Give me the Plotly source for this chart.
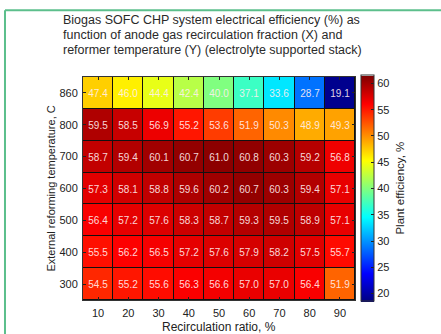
import plotly.graph_objects as go

recirc = [10, 20, 30, 40, 50, 60, 70, 80, 90]
temps = ["300", "400", "500", "600", "700", "800", "860"]
eff_300 = [54.5, 55.2, 55.6, 56.3, 56.6, 57.0, 57.0, 56.4, 51.9]
eff_400 = [55.5, 56.2, 56.5, 57.2, 57.6, 57.9, 58.2, 57.5, 55.7]
eff_500 = [56.4, 57.2, 57.6, 58.3, 58.7, 59.3, 59.5, 58.9, 57.1]
eff_600 = [57.3, 58.1, 58.8, 59.6, 60.2, 60.7, 60.3, 59.4, 57.1]
eff_700 = [58.7, 59.4, 60.1, 60.7, 61.0, 60.8, 60.3, 59.2, 56.8]
eff_800 = [59.5, 58.5, 56.9, 55.2, 53.6, 51.9, 50.3, 48.9, 49.3]
eff_860 = [47.4, 46.0, 44.4, 42.4, 40.0, 37.1, 33.6, 28.7, 19.1]
z = [eff_300, eff_400, eff_500, eff_600, eff_700, eff_800, eff_860]
cbar_ticks = [20, 25, 30, 35, 40, 45, 50, 55, 60]
title_lines = [
    "Biogas SOFC CHP system electrical efficiency (%) as",
    "function of anode gas recirculation fraction (X) and",
    "reformer temperature (Y) (electrolyte supported stack)",
]

jet = [[0.0, "rgb(0,0,128)"], [0.125, "rgb(0,0,255)"], [0.375, "rgb(0,255,255)"],
       [0.625, "rgb(255,255,0)"], [0.875, "rgb(255,0,0)"], [1.0, "rgb(128,0,0)"]]

FONT = "Liberation Sans"

fig = go.Figure(go.Heatmap(
    x=[str(v) for v in recirc], y=temps, z=z,
    colorscale=jet, zmin=18.5, zmax=61.5,
    xgap=1, ygap=1,
    text=[[f"{v:.1f}" for v in row] for row in z],
    texttemplate="%{text}",
    textfont=dict(family=FONT, size=10, color="rgba(255,240,240,0.9)"),
    colorbar=dict(
        x=1.022, xanchor="left", xpad=0, y=0.5, yanchor="middle", ypad=0,
        len=1.013, lenmode="fraction",
        thickness=13, outlinewidth=1, outlinecolor="#333",
        tickvals=cbar_ticks, ticks="inside", ticklen=3, tickcolor="#222",
        tickfont=dict(family=FONT, size=11, color="#222"),
    ),
    showscale=True,
))

title_ann = [
    dict(text=t, xref="paper", yref="paper", x=(62 - 83) / 272, y=(300 - py) / 223,
         xanchor="left", yanchor="middle", showarrow=False, borderpad=0,
         font=dict(family=FONT, size=12.5, color="#2a2a2a"))
    for t, py in zip(title_lines, [19.5, 34.5, 49.5])
]

fig.update_layout(
    width=441, height=334,
    margin=dict(l=83, r=86, t=77, b=34, autoexpand=False),
    paper_bgcolor="white", plot_bgcolor="#111",
    xaxis=dict(
        type="category", showline=True, linecolor="#333", linewidth=1, mirror="ticks",
        showgrid=False, automargin=False,
        ticks="inside", ticklen=3, tickcolor="#222", ticklabelstandoff=3,
        tickfont=dict(family=FONT, size=11, color="#222"),
    ),
    yaxis=dict(
        type="category", showline=True, linecolor="#333", linewidth=1, mirror="ticks",
        showgrid=False, automargin=False,
        ticks="inside", ticklen=3, tickcolor="#222", ticklabelstandoff=2,
        tickfont=dict(family=FONT, size=11, color="#222"),
    ),
    annotations=title_ann + [
        dict(text="Recirculation ratio, %", xref="paper", yref="paper", x=0.5, y=-0.121,
             xanchor="center", yanchor="middle", showarrow=False,
             font=dict(family=FONT, size=12, color="#222")),
        dict(text="External reforming temperature, C", xref="paper", yref="paper", x=-0.121, y=0.5,
             xanchor="center", yanchor="middle", showarrow=False, textangle=-90,
             font=dict(family=FONT, size=11, color="#222")),
        dict(text="Plant efficiency, %", xref="paper", yref="paper", x=1.162, y=0.5,
             xanchor="center", yanchor="middle", showarrow=False, textangle=-90,
             font=dict(family=FONT, size=11.5, color="#222")),
    ],
    shapes=[
        dict(type="line", xref="paper", yref="paper", x0=-0.2868, x1=-0.2868, y0=-0.3, y1=1.2995,
             line=dict(color="#5cbf8c", width=2)),
        dict(type="line", xref="paper", yref="paper", x0=-0.2868, x1=1.4, y0=1.2995, y1=1.2995,
             line=dict(color="#5cbf8c", width=2)),
    ],
)

fig.write_html("out.html", config={"displayModeBar": False},
               post_script="document.body.style.margin='0';")
